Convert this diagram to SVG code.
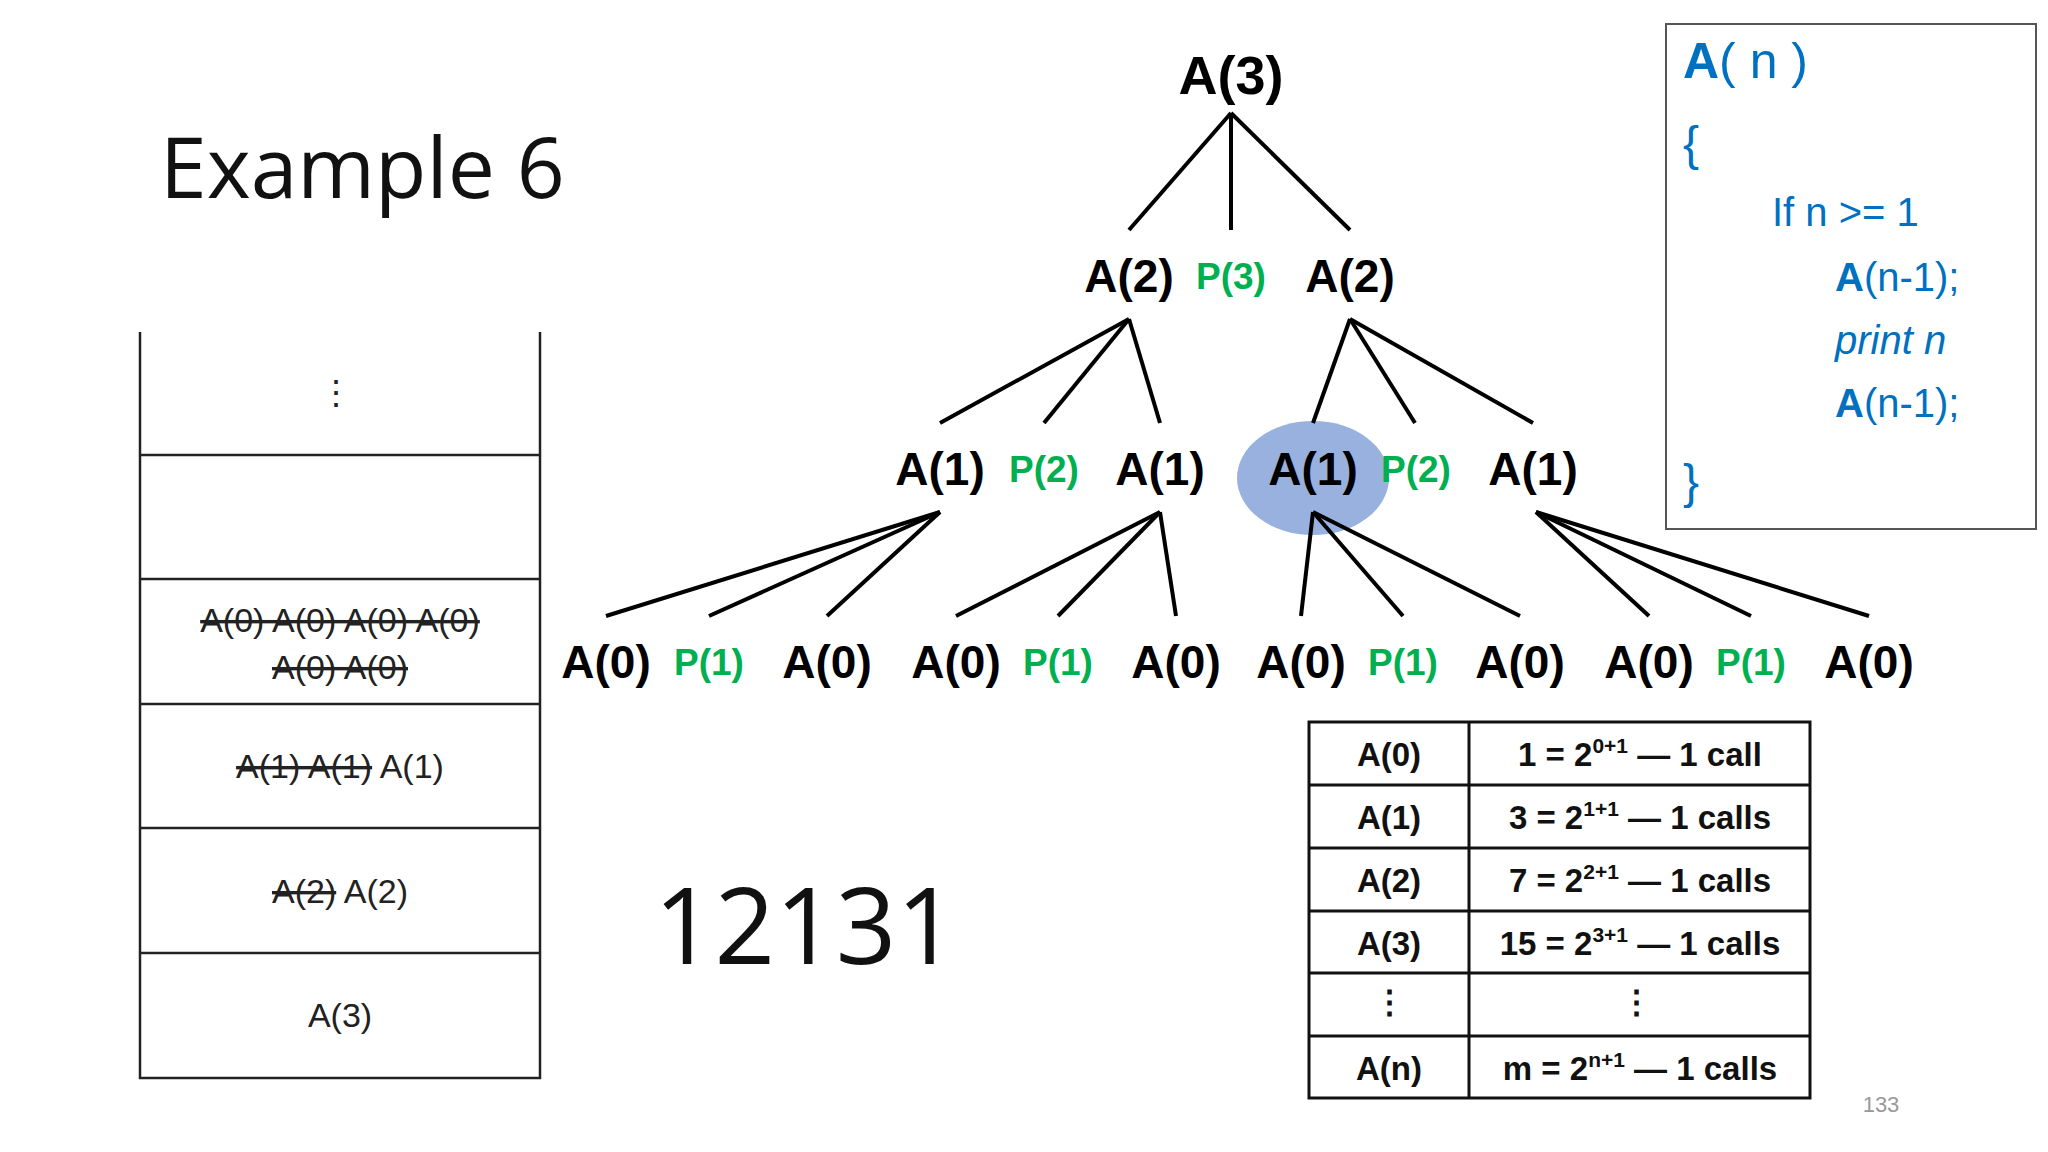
<svg xmlns="http://www.w3.org/2000/svg" width="2048" height="1152" viewBox="0 0 2048 1152">
<style>
text{font-family:"Liberation Sans",Arial,sans-serif}
.n{font-size:46px;font-weight:bold;text-anchor:middle;fill:#000}
.p{font-size:37px;font-weight:bold;text-anchor:middle;fill:#00b050}
.e line{stroke:#000;stroke-width:4}
.s{font-size:34px;text-anchor:middle;fill:#222}
.c{font-size:40px;fill:#0070c0}
.t{font-size:33px;font-weight:bold;text-anchor:middle;fill:#111}
.g{stroke:#222;stroke-width:2.5;fill:none}
</style>
<rect width="2048" height="1152" fill="#fff"/>
<text x="160" y="198" style="font-family:'Open Sans',sans-serif;font-size:84px" fill="#111">Example 6</text>
<g id="stack" class="g">
<path d="M140 332V1078H540V332M140 455H540M140 579H540M140 704H540M140 828H540M140 953H540"/>
</g>
<g id="stack-text">
<text class="s" x="336" y="404">⋮</text>
<text class="s" x="340" y="632" text-decoration="line-through">A(0) A(0) A(0) A(0)</text>
<text class="s" x="340" y="679" text-decoration="line-through">A(0) A(0)</text>
<text class="s" x="340" y="778"><tspan text-decoration="line-through">A(1) A(1)</tspan> A(1)</text>
<text class="s" x="340" y="903"><tspan text-decoration="line-through">A(2)</tspan> A(2)</text>
<text class="s" x="340" y="1027">A(3)</text>
</g>
<text x="654" y="964" style="font-family:'Open Sans',sans-serif;font-size:106px" fill="#111">12131</text>
<ellipse cx="1313" cy="478" rx="76" ry="57" fill="#8ea9db" opacity="0.9"/>
<g id="edges" class="e">
<line x1="1231" y1="113" x2="1129" y2="230"/><line x1="1231" y1="113" x2="1231" y2="230"/><line x1="1231" y1="113" x2="1350" y2="230"/>
<line x1="1129" y1="319" x2="940" y2="423"/><line x1="1129" y1="319" x2="1044" y2="423"/><line x1="1129" y1="319" x2="1160" y2="423"/>
<line x1="1350" y1="319" x2="1313" y2="423"/><line x1="1350" y1="319" x2="1415" y2="423"/><line x1="1350" y1="319" x2="1533" y2="423"/>
<line x1="940" y1="512" x2="606" y2="616"/><line x1="940" y1="512" x2="709" y2="616"/><line x1="940" y1="512" x2="827" y2="616"/>
<line x1="1160" y1="512" x2="956" y2="616"/><line x1="1160" y1="512" x2="1058" y2="616"/><line x1="1160" y1="512" x2="1176" y2="616"/>
<line x1="1313" y1="512" x2="1301" y2="616"/><line x1="1313" y1="512" x2="1403" y2="616"/><line x1="1313" y1="512" x2="1520" y2="616"/>
<line x1="1536" y1="512" x2="1649" y2="616"/><line x1="1536" y1="512" x2="1751" y2="616"/><line x1="1536" y1="512" x2="1869" y2="616"/>
</g>
<g id="root"><text class="n" x="1231" y="94" style="font-size:54px">A(3)</text></g>
<g id="l2">
<text class="n" x="1129" y="292">A(2)</text><text class="p" x="1231" y="289">P(3)</text><text class="n" x="1350" y="292">A(2)</text>
</g>
<g id="l3">
<text class="n" x="940" y="485">A(1)</text><text class="p" x="1044" y="482">P(2)</text><text class="n" x="1160" y="485">A(1)</text>
<text class="n" x="1313" y="485">A(1)</text><text class="p" x="1416" y="482">P(2)</text><text class="n" x="1533" y="485">A(1)</text>
</g>
<g id="l4">
<text class="n" x="606" y="678">A(0)</text><text class="p" x="709" y="675">P(1)</text><text class="n" x="827" y="678">A(0)</text>
<text class="n" x="956" y="678">A(0)</text><text class="p" x="1058" y="675">P(1)</text><text class="n" x="1176" y="678">A(0)</text>
<text class="n" x="1301" y="678">A(0)</text><text class="p" x="1403" y="675">P(1)</text><text class="n" x="1520" y="678">A(0)</text>
<text class="n" x="1649" y="678">A(0)</text><text class="p" x="1751" y="675">P(1)</text><text class="n" x="1869" y="678">A(0)</text>
</g>
<g id="code">
<rect x="1666" y="24" width="370" height="505" fill="#fff" stroke="#555" stroke-width="2"/>
<text class="c" x="1683" y="78" style="font-size:50px"><tspan font-weight="bold">A</tspan>( n )</text>
<text class="c" x="1683" y="160" style="font-size:48px">{</text>
<text class="c" x="1772" y="226">If n &gt;= 1</text>
<text class="c" x="1835" y="291"><tspan font-weight="bold">A</tspan>(n-1);</text>
<text class="c" x="1835" y="354" font-style="italic">print n</text>
<text class="c" x="1835" y="417"><tspan font-weight="bold">A</tspan>(n-1);</text>
<text class="c" x="1683" y="498" style="font-size:48px">}</text>
</g>
<g id="table">
<path d="M1309 722H1810V1098H1309ZM1469 722V1098M1309 785H1810M1309 848H1810M1309 911H1810M1309 973H1810M1309 1036H1810" fill="none" stroke="#111" stroke-width="3"/>
<text class="t" x="1389" y="766">A(0)</text>
<text class="t" x="1389" y="829">A(1)</text>
<text class="t" x="1389" y="892">A(2)</text>
<text class="t" x="1389" y="955">A(3)</text>
<text class="t" x="1389" y="1014">⋮</text>
<text class="t" x="1389" y="1080">A(n)</text>
<text class="t" x="1640" y="766">1 = 2<tspan font-size="21" dy="-13">0+1</tspan><tspan dy="13"> — 1 call</tspan></text>
<text class="t" x="1640" y="829">3 = 2<tspan font-size="21" dy="-13">1+1</tspan><tspan dy="13"> — 1 calls</tspan></text>
<text class="t" x="1640" y="892">7 = 2<tspan font-size="21" dy="-13">2+1</tspan><tspan dy="13"> — 1 calls</tspan></text>
<text class="t" x="1640" y="955">15 = 2<tspan font-size="21" dy="-13">3+1</tspan><tspan dy="13"> — 1 calls</tspan></text>
<text class="t" x="1636" y="1014">⋮</text>
<text class="t" x="1640" y="1080">m = 2<tspan font-size="21" dy="-13">n+1</tspan><tspan dy="13"> — 1 calls</tspan></text>
</g>
<text x="1881" y="1112" font-size="22" fill="#999" text-anchor="middle">133</text>
</svg>
